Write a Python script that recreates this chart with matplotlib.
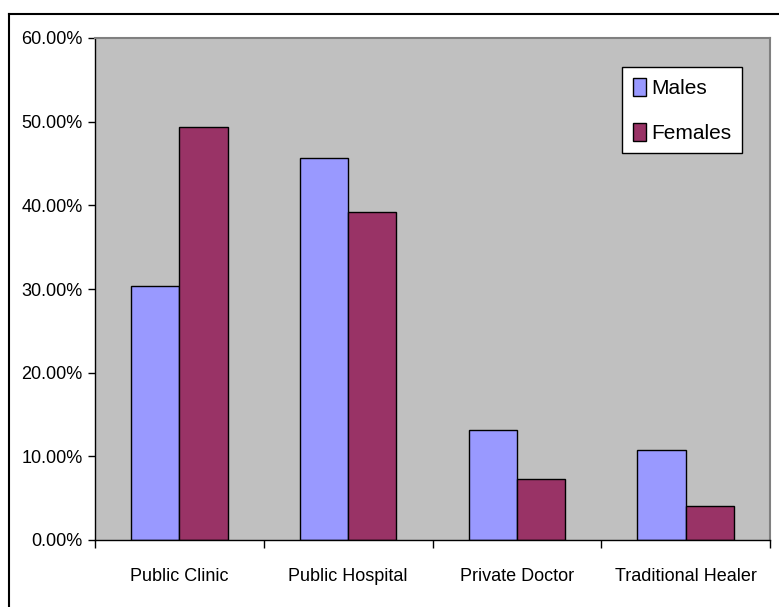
import numpy as np
import matplotlib.pyplot as plt
from matplotlib.lines import Line2D
from matplotlib.ticker import FuncFormatter

plt.rcParams["font.family"] = ["Liberation Sans", "DejaVu Sans"]

# data
categories = ["Public Clinic", "Public Hospital", "Private Doctor", "Traditional Healer"]
males = [30.4, 45.6, 13.1, 10.8]
females = [49.4, 39.2, 7.3, 4.1]

fig = plt.figure(figsize=(7.79, 6.07), dpi=100)
ax = fig.add_axes([95 / 779, 67 / 607, 675 / 779, 502 / 607])
ax.set_facecolor("#C0C0C0")

x = np.arange(len(categories))
w = 1 / 3.5
ax.bar(x - w / 2, males, w, color="#9999FF", edgecolor="black", linewidth=1, label="Males")
ax.bar(x + w / 2, females, w, color="#993366", edgecolor="black", linewidth=1, label="Females")

ax.set_xlim(-0.5, len(categories) - 0.5)
ax.set_ylim(0, 60)
ax.set_yticks(np.arange(0, 61, 10))
ax.yaxis.set_major_formatter(FuncFormatter(lambda v, p: f"{v:.2f}%"))
ax.tick_params(axis="y", direction="out", length=5, width=1, labelsize=13, pad=4)

# category boundaries as tick marks, labels in between
ax.set_xticks(np.arange(-0.5, len(categories), 1))
ax.set_xticklabels([])
ax.set_xticks(x, minor=True)
ax.set_xticklabels(categories, minor=True)
ax.tick_params(axis="x", which="major", direction="out", length=6, width=1)
ax.tick_params(axis="x", which="minor", length=0, labelsize=13, pad=20)

for s in ["top", "right"]:
    ax.spines[s].set_color("#808080")
    ax.spines[s].set_linewidth(1.5)
for s in ["left", "bottom"]:
    ax.spines[s].set_color("black")
    ax.spines[s].set_linewidth(1)

leg = ax.legend(loc="upper right", bbox_to_anchor=(0.9585, 0.942), fontsize=15,
                frameon=True, fancybox=False, edgecolor="black", framealpha=1,
                handlelength=0.65, handleheight=0.95, handletextpad=0.25,
                labelspacing=1.2, borderpad=0.5, borderaxespad=0)
leg.get_frame().set_linewidth(1)

# outer chart border (only left and top visible in the crop)
fig.add_artist(Line2D([9 / 779, 9 / 779], [0, 1 - 14 / 607], transform=fig.transFigure, color="black", lw=1.5))
fig.add_artist(Line2D([9 / 779, 1], [1 - 14 / 607, 1 - 14 / 607], transform=fig.transFigure, color="black", lw=1.5))

plt.savefig("out.png", dpi=100)
